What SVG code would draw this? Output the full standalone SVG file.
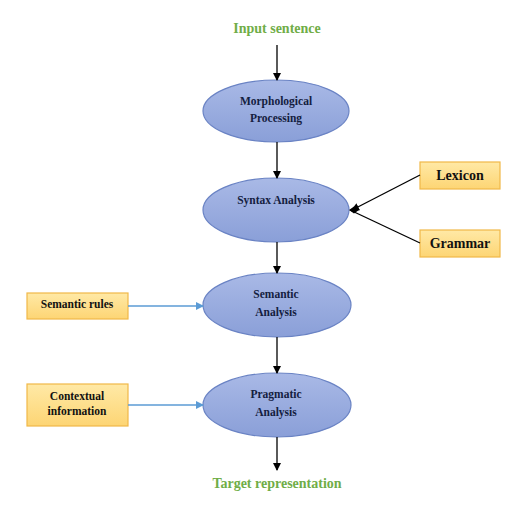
<svg xmlns="http://www.w3.org/2000/svg" width="525" height="506" viewBox="0 0 525 506">
<defs>
<linearGradient id="eg" x1="0" y1="0" x2="0" y2="1">
<stop offset="0" stop-color="#a9b9e6"/>
<stop offset="1" stop-color="#8a9fd8"/>
</linearGradient>
<linearGradient id="bg" x1="0" y1="0" x2="0" y2="1">
<stop offset="0" stop-color="#ffe9a6"/>
<stop offset="1" stop-color="#fdd574"/>
</linearGradient>
<marker id="ab" markerWidth="8" markerHeight="8" refX="7" refY="4" orient="auto" markerUnits="userSpaceOnUse">
<path d="M0,0 L8,4 L0,8 Z" fill="#000"/>
</marker>
<marker id="abl" markerWidth="8" markerHeight="8" refX="7" refY="4" orient="auto" markerUnits="userSpaceOnUse">
<path d="M0,0 L8,4 L0,8 Z" fill="#5b9bd5"/>
</marker>
</defs>
<style>
.el{fill:url(#eg);stroke:#6a83c4;stroke-width:1.2}
.bx{fill:url(#bg);stroke:#f0b848;stroke-width:1.2}
.nt{font-family:"Liberation Serif",serif;font-weight:bold;font-size:11.5px;fill:#14203f;text-anchor:middle}
.bt{font-family:"Liberation Serif",serif;font-weight:bold;font-size:11.5px;fill:#111;text-anchor:middle}
.bbt{font-family:"Liberation Serif",serif;font-weight:bold;font-size:14px;fill:#111;text-anchor:middle}
.gt{font-family:"Liberation Serif",serif;font-weight:bold;font-size:14px;fill:#70ad47;text-anchor:middle}
.ln{stroke:#000;stroke-width:1.3;fill:none}
.lb{stroke:#5b9bd5;stroke-width:1.3;fill:none}
</style>
<g id="input"><text class="gt" x="277" y="33">Input sentence</text></g>
<g id="morph"><ellipse class="el" cx="276" cy="111" rx="73" ry="31"/><text class="nt" x="276" y="105">Morphological</text><text class="nt" x="276" y="122">Processing</text></g>
<g id="syntax"><ellipse class="el" cx="276" cy="210" rx="73" ry="32"/><text class="nt" x="276" y="204">Syntax Analysis</text></g>
<g id="semantic"><ellipse class="el" cx="277" cy="305" rx="74" ry="32"/><text class="nt" x="276" y="298">Semantic</text><text class="nt" x="276" y="316">Analysis</text></g>
<g id="pragmatic"><ellipse class="el" cx="277" cy="405" rx="74" ry="32"/><text class="nt" x="276" y="398">Pragmatic</text><text class="nt" x="276" y="416">Analysis</text></g>
<g id="target"><text class="gt" x="277" y="488">Target representation</text></g>
<g id="lexicon"><rect class="bx" x="420" y="162" width="80" height="27"/><text class="bbt" x="460" y="180">Lexicon</text></g>
<g id="grammar"><rect class="bx" x="420" y="230" width="80" height="27"/><text class="bbt" x="460" y="248">Grammar</text></g>
<g id="semrules"><rect class="bx" x="27" y="293" width="101" height="26"/><text class="bt" x="77" y="308">Semantic rules</text></g>
<g id="context"><rect class="bx" x="27" y="384" width="101" height="42"/><text class="bt" x="77" y="400">Contextual</text><text class="bt" x="77" y="415">information</text></g>
<g id="connectors">
<line class="ln" x1="277" y1="45" x2="277" y2="80" marker-end="url(#ab)"/>
<line class="ln" x1="277" y1="142" x2="277" y2="178" marker-end="url(#ab)"/>
<line class="ln" x1="277" y1="242" x2="277" y2="273" marker-end="url(#ab)"/>
<line class="ln" x1="277" y1="337" x2="277" y2="373" marker-end="url(#ab)"/>
<line class="ln" x1="277" y1="437" x2="277" y2="470" marker-end="url(#ab)"/>
<line class="ln" x1="420" y1="175" x2="352" y2="210" marker-end="url(#ab)"/>
<line class="ln" x1="420" y1="243" x2="350" y2="210"/>
<path d="M349,210 L354,206.5 L359,210 L354,213.5 Z" fill="#000"/>
<line class="lb" x1="128" y1="306" x2="203" y2="306" marker-end="url(#abl)"/>
<line class="lb" x1="128" y1="405" x2="203" y2="405" marker-end="url(#abl)"/>
</g>
</svg>
